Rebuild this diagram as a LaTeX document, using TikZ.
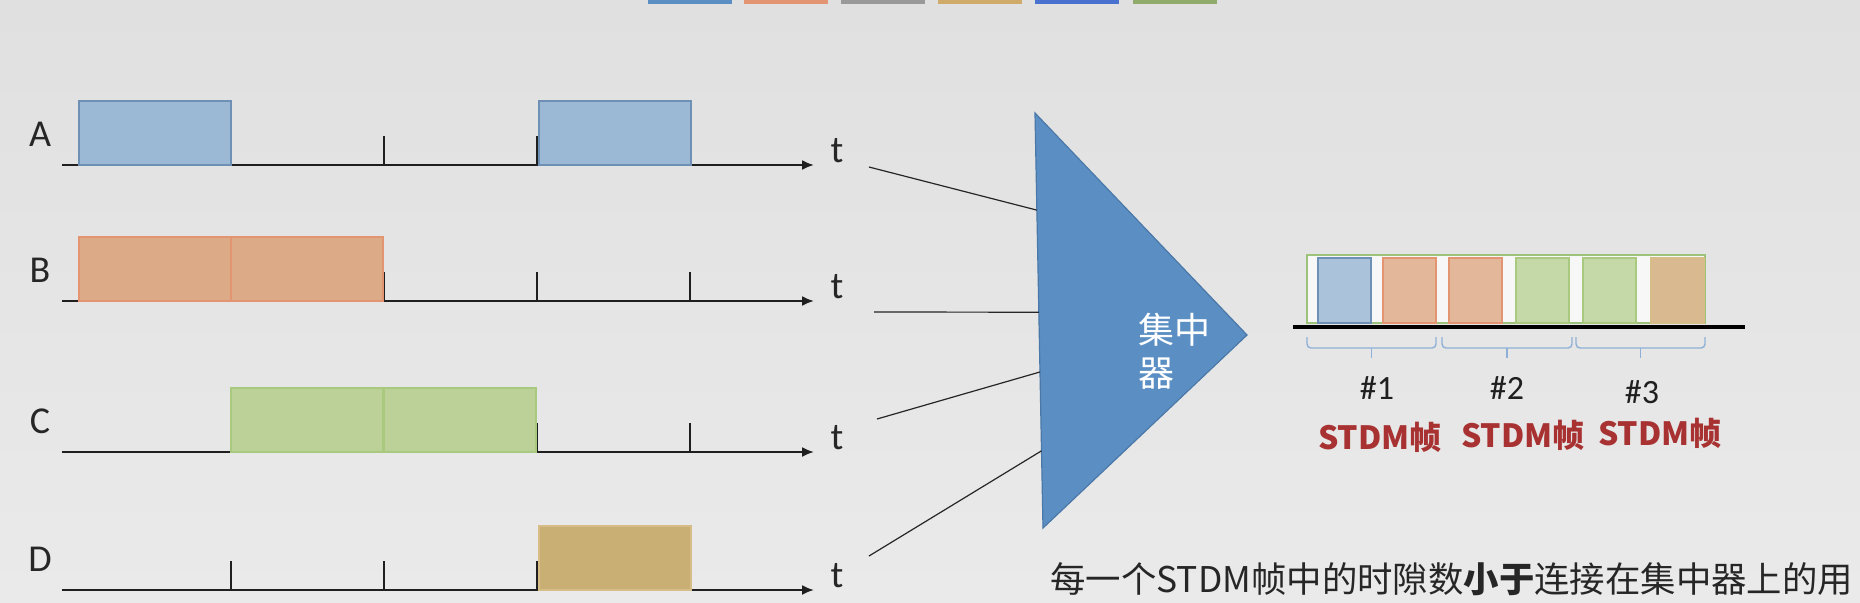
\documentclass[tikz,border=0pt]{standalone}
\usepackage{fontspec}
\setmainfont{Carlito}
\newfontfamily\cjk{Noto Sans CJK SC}
\usepackage{xcolor}
\usepackage{tikz}
\usetikzlibrary{arrows.meta}
\usetikzlibrary{calc}

\definecolor{bgtop}{HTML}{E0E0E0}
\definecolor{bgbot}{HTML}{EAEAEA}
\definecolor{fillA}{HTML}{9BB8D4}
\definecolor{drawA}{HTML}{6E90B4}
\definecolor{fillB}{HTML}{DDAA88}
\definecolor{drawB}{HTML}{E39470}
\definecolor{fillC}{HTML}{BBD198}
\definecolor{drawC}{HTML}{A9C97E}
\definecolor{fillD}{HTML}{CAAF74}
\definecolor{drawD}{HTML}{D6BC86}
\definecolor{concfill}{HTML}{5B8FC4}
\definecolor{concdraw}{HTML}{4A78A8}
\definecolor{frameline}{HTML}{9DC27A}
\definecolor{bracecol}{HTML}{8FB0D6}
\definecolor{stdmred}{HTML}{A83232}

\tikzset{
  axis/.style={line width=1pt, color=black!88, -{Latex[length=6pt,width=5pt]}},
  tickmark/.style={line width=0.6pt, color=black!88},
  lbl/.style={font=\fontsize{19}{19}\selectfont, text=black!85, inner sep=0pt},
  feed/.style={line width=0.6pt, color=black!85},
  brc/.style={color=bracecol, line width=0.7pt, rounded corners=2pt},
  numlbl/.style={font=\fontsize{17}{17}\selectfont, text=black!88, inner sep=0pt},
  stdmlbl/.style={font=\cjk\bfseries\fontsize{16}{16}\selectfont, text=stdmred, inner sep=0pt},
}

\begin{document}
\begin{tikzpicture}[x=0.5pt, y=-0.5pt]
\useasboundingbox (0,0) rectangle (1860,602);
\shade[top color=bgtop, bottom color=bgbot] (0,0) rectangle (1860,602);

% cut-off colour bars at the top
\foreach \x/\c in {648/concfill,744/drawB,841/black!40,938/fillD!90!orange,1035/concfill!80!blue,1133/drawC!85!black}{
    \fill[black!12] (\x+1,3) rectangle ++(84,3);
    \fill[\c] (\x,0) rectangle ++(84,4);
}

% four lines A-D
\foreach \n/\y in {A/165,B/301,C/452,D/590}{
    \node[lbl] (lab\n) at (40,\y-31) {\n};
    \foreach \tx in {231,384,537,690}{
        \draw[tickmark] (\tx,\y) -- (\tx,\y-29);
    }
    \coordinate (o\n) at (62,\y);
    \coordinate (e\n) at (814,\y);
    \draw[axis] (o\n) -- (e\n);
    \node[lbl] (t\n) at (837,\y-14) {t};
}

% pulses
\foreach \x/\y/\c in {79/165/A,539/165/A,79/301/B,231/301/B,231/452/C,384/452/C,539/590/D}{
    \draw[fill=fill\c, draw=draw\c, line width=0.6pt] (\x,\y) rectangle ++(152,-64);
}

% concentrator
\coordinate (T1) at (1035,113);
\coordinate (T2) at (1043,528);
\coordinate (T3) at (1247,335);
\draw[fill=concfill, draw=concdraw, line width=0.6pt] (T1) -- (T3) -- (T2) -- cycle;
\node[font=\cjk\fontsize{18}{21.5}\selectfont, text=white, align=left, inner sep=0pt] (conc) at (1174,351) {集中\\器};

\foreach \i/\sx/\sy/\p in {1/869/167/0.234,2/874/312/0.48,3/877/419/0.624,4/869/556/0.814}{
    \coordinate (s\i) at (\sx,\sy);
    \coordinate (c\i) at ($(T1)!\p!(T2)$);
    \draw[feed] (s\i) -- (c\i);
}

% STDM frames
\draw[frameline, fill=white!60!bgbot, line width=0.6pt] (1307,255) rectangle (1705,323);
\foreach \x/\c in {1318/A,1383/B,1449/B,1516/C,1583/C,1651/D}{
    \draw[fill=fill\c!85!white, draw=draw\c, line width=0.6pt] (\x,258) rectangle ++(53,65);
}
\fill[fillD!60!fillB!85!white] (1652,259) rectangle ++(51,63);
\coordinate (L1) at (1293,327);
\coordinate (L2) at (1745,327);
\draw[line width=2pt, black] (L1) -- (L2);

\foreach \i/\a/\b/\nx/\ny/\fx/\fy in {1/1307/1436/1377/388/1380/437,2/1442/1572/1507/388/1523/435,3/1576/1705/1642/392/1660/433}{
    \draw[brc] (\a,337) -- (\a,348) -- (\b,348) -- (\b,337);
    \draw[brc] ({(\a+\b)/2},348) -- ({(\a+\b)/2},358);
    \node[numlbl] (num\i) at (\nx,\ny) {\#\i};
    \node[stdmlbl] (stdm\i) at (\fx,\fy) {STDM帧};
}

\node[font=\cjk\fontsize{17.7}{17.7}\selectfont, text=black!85, anchor=west, inner sep=0pt] (note) at (1050,579) {每一个STDM帧中的时隙数{\bfseries 小于}连接在集中器上的用};
\end{tikzpicture}
\end{document}
